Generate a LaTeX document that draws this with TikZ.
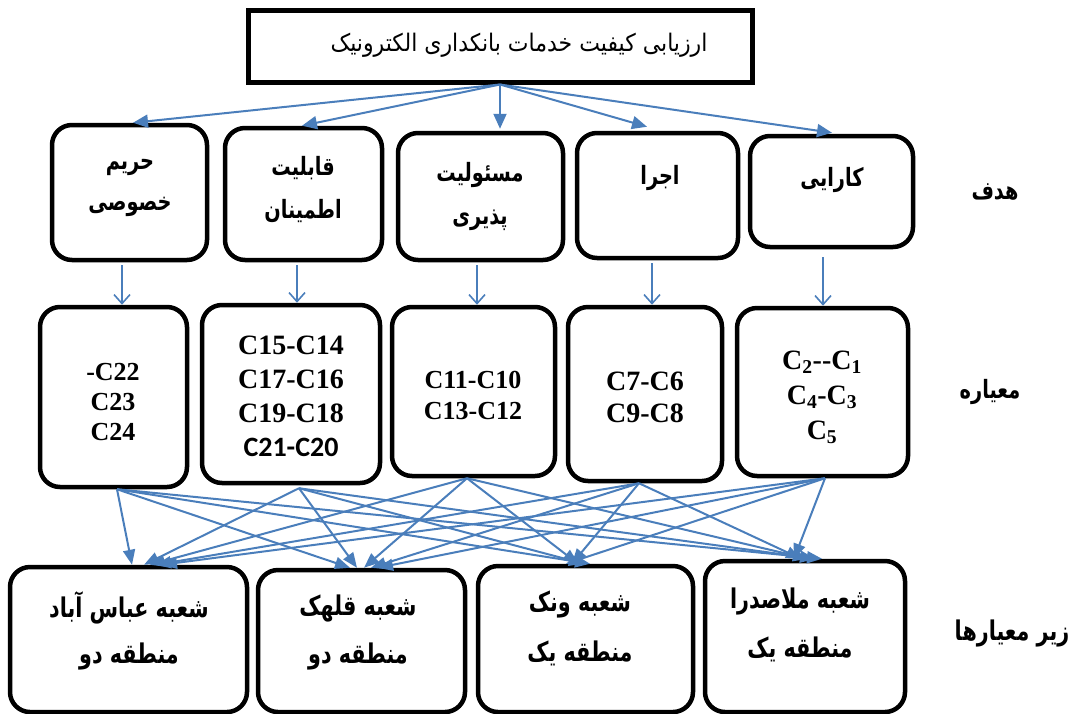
\documentclass[tikz,border=0pt]{standalone}
\usepackage{fontspec}
\usepackage{graphicx}
\setmainfont{Liberation Serif}
\newfontfamily\fa[Script=Arabic]{DejaVu Sans}
\newfontfamily\calfont{Carlito}
\TeXXeTstate=1
\usetikzlibrary{arrows.meta,calc}
\definecolor{arrc}{HTML}{4A7EBB}
\newcommand{\pt}[1]{\scalebox{0.92}[1.2]{\beginR #1\endR}}
\newcommand{\bt}[1]{\scalebox{0.9}[1.18]{\beginR #1\endR}}
\begin{document}
\begin{tikzpicture}[x=1pt,y=-1pt,
  box/.style={draw,line width=4.5pt,rounded corners=20pt,inner sep=0pt},
  ptext/.style={inner sep=0pt,font=\fa\bfseries\fontsize{21}{25}\selectfont},
  btext/.style={inner sep=0pt,font=\fa\bfseries\fontsize{23}{27}\selectfont},
  ntext/.style={inner sep=0pt,font=\fa\fontsize{22}{26}\selectfont},
  ctext/.style={inner sep=0pt,align=center,font=\bfseries\fontsize{27}{31}\selectfont},
  tarr/.style={arrc,line width=2pt,-{Triangle[length=15pt,width=13pt]}},
  varr/.style={arrc,line width=1.6pt,-{Straight Barb[length=9pt,width=16pt]}},
  barr/.style={arrc,line width=2pt,-{Triangle[length=15pt,width=12pt]}}]
\useasboundingbox (0,0) rectangle (1078,713);
% title
\node[draw,line width=5pt,minimum width=504pt,minimum height=72pt,inner sep=0pt] (title) at (500,46) {};
\node[ntext] (titletxt) at (519,45) {\scalebox{1}[1.1]{\beginR ارزیابی کیفیت خدمات بانکداری الکترونیک\endR}};
% level 1
\node[box,minimum width=155pt,minimum height=135pt] (t1) at (129.5,192.5) {};
\node[box,minimum width=157pt,minimum height=132pt] (t2) at (303.5,194) {};
\node[box,minimum width=165pt,minimum height=127pt] (t3) at (480.5,196.5) {};
\node[box,minimum width=161pt,minimum height=125pt] (t4) at (657.5,195.5) {};
\node[box,minimum width=163pt,minimum height=111pt] (t5) at (831.5,191.5) {};
\node[ptext] (t1a) at (130,167) {\pt{حریم}};
\node[ptext] (t1b) at (130,207) {\pt{خصوصی}};
\node[ptext] (t2a) at (303,168) {\pt{قابلیت}};
\node[ptext] (t2b) at (303,211) {\pt{اطمینان}};
\node[ptext] (t3a) at (480,175) {\pt{مسئولیت}};
\node[ptext] (t3b) at (480,220) {\pt{پذیری}};
\node[ptext] (t4a) at (660,178) {\pt{اجرا}};
\node[ptext] (t5a) at (832,180) {\pt{کارایی}};
\node[ptext] (lab1) at (995,192) {\pt{هدف}};
% level 2
\node[box,minimum width=147pt,minimum height=180pt] (c1) at (113.5,397) {};
\node[box,minimum width=178pt,minimum height=178pt] (c2) at (291,394) {};
\node[box,minimum width=163pt,minimum height=169pt] (c3) at (473.5,391.5) {};
\node[box,minimum width=154pt,minimum height=174pt] (c4) at (645,394) {};
\node[box,minimum width=171pt,minimum height=168pt] (c5) at (822.5,392) {};
\node[ctext,font=\bfseries\fontsize{26}{30}\selectfont] (c1t) at (113,402) {-C22\\C23\\C24};
\node[ctext,font=\bfseries\fontsize{28}{34}\selectfont] (c2t) at (291,396) {C15-C14\\C17-C16\\C19-C18\\{\calfont\bfseries C21-C20}};
\node[ctext,font=\bfseries\fontsize{26}{31}\selectfont] (c3t) at (473,395) {C11-C10\\C13-C12};
\node[ctext,font=\bfseries\fontsize{28}{32}\selectfont] (c4t) at (645,397) {C7-C6\\C9-C8};
\node[ctext,font=\bfseries\fontsize{28}{35}\selectfont] (c5t) at (822,397) {C\textsubscript{2}-{}-C\textsubscript{1}\\C\textsubscript{4}-C\textsubscript{3}\\C\textsubscript{5}};
\node[ptext] (lab2) at (990,392) {\pt{معیاره}};
% level 3
\node[box,minimum width=237pt,minimum height=145pt] (s1) at (128.5,639.5) {};
\node[box,minimum width=207pt,minimum height=142pt] (s2) at (361.5,641) {};
\node[box,minimum width=215pt,minimum height=146pt] (s3) at (585.5,639) {};
\node[box,minimum width=200pt,minimum height=151pt] (s4) at (805,636.5) {};
\node[btext] (s1a) at (129,608) {\bt{شعبه عباس آباد}};
\node[btext] (s1b) at (129,656) {\bt{منطقه دو}};
\node[btext] (s2a) at (358,608) {\bt{شعبه قلهک}};
\node[btext] (s2b) at (358,656) {\bt{منطقه دو}};
\node[btext] (s3a) at (580,604) {\bt{شعبه ونک}};
\node[btext] (s3b) at (580,653) {\bt{منطقه یک}};
\node[btext] (s4a) at (800,601) {\bt{شعبه ملاصدرا}};
\node[btext] (s4b) at (800,649) {\bt{منطقه یک}};
\node[btext] (lab3) at (1012,633) {\bt{زیر معیارها}};
% title arrows
\draw[tarr] (title.south) -- ($(t1.north)+(3.5,0)$);
\draw[tarr] (title.south) -- ($(t2.north)+(-1.5,0)$);
\draw[tarr] (title.south) -- ($(t3.north)+(19.5,-2)$);
\draw[tarr] (title.south) -- ($(t4.north)+(-10.5,-4)$);
\draw[tarr] (title.south) -- ($(t5.north)+(0.5,-1)$);
% vertical arrows
\foreach \k/\dx/\dy in {1/-7.5/3,2/-6.5/3,3/-3.5/3,4/-5.5/3,5/-8.5/8}{
  \draw[varr] ($(t\k.south)+(\dx,\dy)$) coordinate (v\k) -- (v\k |- c\k.north);
}
% bottom arrows
\foreach \s/\sx/\sy in {1/3.5/0,2/8/3,3/-6.5/0,4/-6/0,5/2.5/0}{
  \foreach \t/\tx in {1/3.5,2/-11.5,3/4.5,4/17}{
    \pgfmathsetmacro{\off}{\s==1 ? \tx : (\t==1 ? \tx+6*\s : (\t==2 ? \tx+7*(\s-1) : (\t==3 ? \tx-6*(\s-1) : \tx-7*(\s-1))))}
    \draw[barr] ($(c\s.south)+(\sx,\sy)$) -- ($(s\t.north)+(\off,0)$);
  }
}
\end{tikzpicture}
\end{document}
